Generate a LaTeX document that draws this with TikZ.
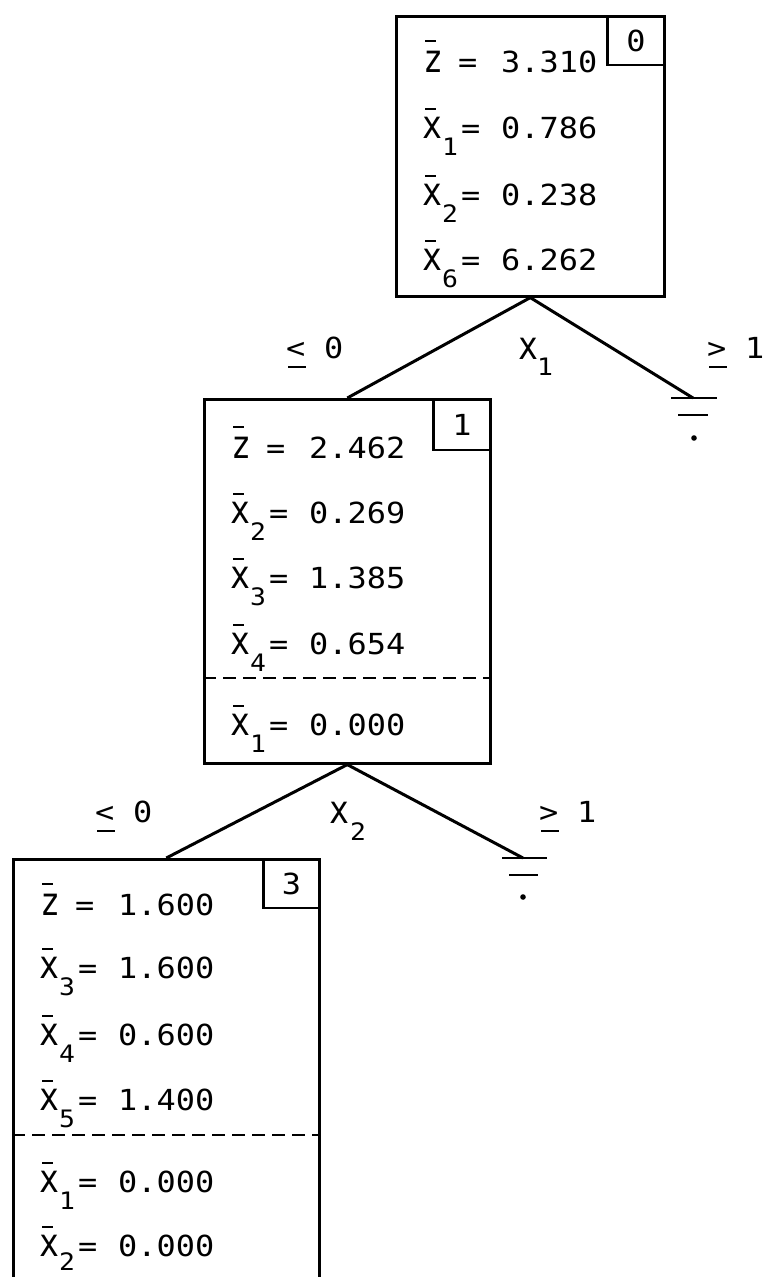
\documentclass[tikz,border=0pt]{standalone}
\usepackage{fontspec}
\newfontfamily\twf[FakeStretch=1.1]{DejaVu Sans Mono}
\newfontfamily\ltf[FakeStretch=0.85]{DejaVu Sans Mono}
\tikzset{
  valtxt/.style={inner sep=0pt, anchor=base west, font=\twf\fontsize{29}{30}\selectfont},
  lettxt/.style={inner sep=0pt, anchor=base west, font=\ltf\fontsize{39}{40}\selectfont},
  subtxt/.style={inner sep=0pt, anchor=base west, font=\twf\fontsize{24}{26}\selectfont},
  box/.style={draw, line width=2.6pt, inner sep=0pt, anchor=north west},
  tag/.style={draw, line width=2.4pt, inner sep=0pt, anchor=north east},
  tagtxt/.style={inner sep=0pt, font=\twf\fontsize{29}{30}\selectfont},
  barline/.style={line width=2.8pt},
  branch/.style={line width=3pt},
  sepline/.style={line width=2.8pt, dash pattern=on 13pt off 7pt},
  gnd/.style={line width=2.8pt},
  ulline/.style={line width=2.6pt},
}
% #1 name, #2 box left, #3 baseline, #4 value
\newcommand\myzrow[4]{%
  \node[lettxt] (#1z) at (#2+28,#3) {z};
  \draw[barline] (#2+30,#3-31) -- (#2+41,#3-31);
  \node[valtxt] (#1e) at (#2+63,#3) {=};
  \node[valtxt] (#1v) at (#2+106,#3) {#4};
}
% #1 name, #2 box left, #3 baseline, #4 subscript, #5 value, #6 subscript drop
\newcommand\myxrow[6]{%
  \node[lettxt] (#1x) at (#2+27,#3) {x};
  \draw[barline] (#2+30,#3-29) -- (#2+41,#3-29);
  \node[subtxt] (#1s) at (#2+47,#3+#6) {#4};
  \node[valtxt] (#1e) at (#2+66,#3) {=};
  \node[valtxt] (#1v) at (#2+106,#3) {#5};
}
% less/greater-or-equal as typed: sign with a rule underneath, then the number
% #1 name, #2 x, #3 baseline, #4 sign, #5 number
\newcommand\mycmp[5]{%
  \node[valtxt] (#1s) at (#2,#3) {#4};
  \draw[ulline] (#2+2,#3+9) -- (#2+20,#3+9);
  \node[valtxt] (#1n) at (#2+38,#3) {#5};
}
\begin{document}
\begin{tikzpicture}[x=1pt,y=-1pt]
\useasboundingbox (0,0) rectangle (767,1277);
\clip (0,0) rectangle (767,1277);

% ---------- box 0 ----------
\node[box, minimum width=268pt, minimum height=280pt] (b0) at (395,15) {};
\node[tag, minimum width=57pt, minimum height=49pt] (t0) at (b0.north east) {};
\node[tagtxt] (t0l) at (t0.center) {0};
\myzrow{r0a}{395}{72}{3.310}
\myxrow{r0b}{395}{138}{1}{0.786}{17}
\myxrow{r0c}{395}{205}{2}{0.238}{17}
\myxrow{r0d}{395}{270}{6}{6.262}{17}

% ---------- box 1 ----------
\node[box, minimum width=286pt, minimum height=364pt] (b1) at (203,398) {};
\node[tag, minimum width=57pt, minimum height=51pt] (t1) at (b1.north east) {};
\node[tagtxt] (t1l) at (t1.center) {1};
\myzrow{r1a}{203}{458}{2.462}
\myxrow{r1b}{203}{523}{2}{0.269}{17}
\myxrow{r1c}{203}{588}{3}{1.385}{17}
\myxrow{r1d}{203}{654}{4}{0.654}{17}
\draw[sepline] (203,678) -- (489,678);
\myxrow{r1e}{203}{735}{1}{0.000}{17}

% ---------- box 3 ----------
\node[box, minimum width=306pt, minimum height=460pt] (b3) at (12,858) {};
\node[tag, minimum width=56pt, minimum height=49pt] (t3) at (b3.north east) {};
\node[tagtxt] (t3l) at (t3.center) {3};
\myzrow{r3a}{12}{915}{1.600}
\myxrow{r3b}{12}{978}{3}{1.600}{17}
\myxrow{r3c}{12}{1045}{4}{0.600}{17}
\myxrow{r3d}{12}{1110}{5}{1.400}{17}
\draw[sepline] (12,1135) -- (318,1135);
\myxrow{r3e}{12}{1192}{1}{0.000}{17}
\myxrow{r3f}{12}{1256}{2}{0.000}{14}

% ---------- fathomed (ground) symbols ----------
\coordinate (g1) at (693,398);
\coordinate (g2) at (523,858);
\draw[gnd] (g1) ++(-22,0) -- ++(46,0);
\draw[gnd] (g1) ++(-15,17) -- ++(30,0);
\fill (g1) ++(1,40) circle (2.8pt);
\draw[gnd] (g2) ++(-21,0) -- ++(45,0);
\draw[gnd] (g2) ++(-14,17) -- ++(29,0);
\fill (g2) ++(0,39) circle (2.8pt);

% ---------- branches ----------
\draw[branch] (b0.south) -- (b1.north);
\draw[branch] (b0.south) -- (g1);
\draw[branch] (b1.south) -- (b3.north);
\draw[branch] (b1.south) -- (g2);

% ---------- branch labels ----------
\mycmp{l1a}{286}{358}{<}{0}
\node[lettxt] (l1x) at (518,359) {x};
\node[subtxt] (l1s) at (537,375) {1};
\mycmp{l1b}{707}{358}{>}{1}

\mycmp{l2a}{95}{822}{<}{0}
\node[lettxt] (l2x) at (329,823) {x};
\node[subtxt] (l2s) at (350,840) {2};
\mycmp{l2b}{539}{822}{>}{1}
\end{tikzpicture}
\end{document}
